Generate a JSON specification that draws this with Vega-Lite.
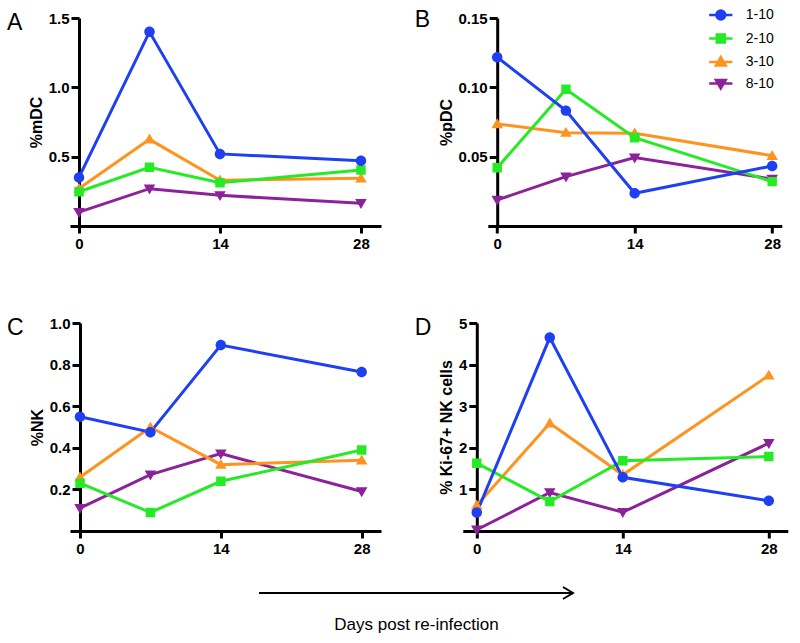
{
  "$schema": "https://vega.github.io/schema/vega-lite/v6.json",
  "padding": {"left": 7, "top": 8, "right": 5, "bottom": 5},
  "background": "white",
  "datasets": {
    "d": [
      {"panel": "A", "group": "8-10", "day": 0, "value": 0.10},
      {"panel": "A", "group": "8-10", "day": 7, "value": 0.269},
      {"panel": "A", "group": "8-10", "day": 14, "value": 0.221},
      {"panel": "A", "group": "8-10", "day": 28, "value": 0.164},
      {"panel": "A", "group": "3-10", "day": 0, "value": 0.27},
      {"panel": "A", "group": "3-10", "day": 7, "value": 0.625},
      {"panel": "A", "group": "3-10", "day": 14, "value": 0.33},
      {"panel": "A", "group": "3-10", "day": 28, "value": 0.344},
      {"panel": "A", "group": "2-10", "day": 0, "value": 0.247},
      {"panel": "A", "group": "2-10", "day": 7, "value": 0.423},
      {"panel": "A", "group": "2-10", "day": 14, "value": 0.312},
      {"panel": "A", "group": "2-10", "day": 28, "value": 0.404},
      {"panel": "A", "group": "1-10", "day": 0, "value": 0.35},
      {"panel": "A", "group": "1-10", "day": 7, "value": 1.40},
      {"panel": "A", "group": "1-10", "day": 14, "value": 0.52},
      {"panel": "A", "group": "1-10", "day": 28, "value": 0.47},

      {"panel": "B", "group": "8-10", "day": 0, "value": 0.0188},
      {"panel": "B", "group": "8-10", "day": 7, "value": 0.0356},
      {"panel": "B", "group": "8-10", "day": 14, "value": 0.0493},
      {"panel": "B", "group": "8-10", "day": 28, "value": 0.0339},
      {"panel": "B", "group": "3-10", "day": 0, "value": 0.0736},
      {"panel": "B", "group": "3-10", "day": 7, "value": 0.0673},
      {"panel": "B", "group": "3-10", "day": 14, "value": 0.0668},
      {"panel": "B", "group": "3-10", "day": 28, "value": 0.0507},
      {"panel": "B", "group": "2-10", "day": 0, "value": 0.042},
      {"panel": "B", "group": "2-10", "day": 7, "value": 0.0986},
      {"panel": "B", "group": "2-10", "day": 14, "value": 0.0637},
      {"panel": "B", "group": "2-10", "day": 28, "value": 0.032},
      {"panel": "B", "group": "1-10", "day": 0, "value": 0.1217},
      {"panel": "B", "group": "1-10", "day": 7, "value": 0.0832},
      {"panel": "B", "group": "1-10", "day": 14, "value": 0.0236},
      {"panel": "B", "group": "1-10", "day": 28, "value": 0.0433},

      {"panel": "C", "group": "8-10", "day": 0, "value": 0.110},
      {"panel": "C", "group": "8-10", "day": 7, "value": 0.271},
      {"panel": "C", "group": "8-10", "day": 14, "value": 0.372},
      {"panel": "C", "group": "8-10", "day": 28, "value": 0.19},
      {"panel": "C", "group": "3-10", "day": 0, "value": 0.258},
      {"panel": "C", "group": "3-10", "day": 7, "value": 0.499},
      {"panel": "C", "group": "3-10", "day": 14, "value": 0.319},
      {"panel": "C", "group": "3-10", "day": 28, "value": 0.340},
      {"panel": "C", "group": "2-10", "day": 0, "value": 0.230},
      {"panel": "C", "group": "2-10", "day": 7, "value": 0.089},
      {"panel": "C", "group": "2-10", "day": 14, "value": 0.239},
      {"panel": "C", "group": "2-10", "day": 28, "value": 0.389},
      {"panel": "C", "group": "1-10", "day": 0, "value": 0.549},
      {"panel": "C", "group": "1-10", "day": 7, "value": 0.475},
      {"panel": "C", "group": "1-10", "day": 14, "value": 0.894},
      {"panel": "C", "group": "1-10", "day": 28, "value": 0.764},

      {"panel": "D", "group": "8-10", "day": 0, "value": 0.03},
      {"panel": "D", "group": "8-10", "day": 7, "value": 0.925},
      {"panel": "D", "group": "8-10", "day": 14, "value": 0.45},
      {"panel": "D", "group": "8-10", "day": 28, "value": 2.11},
      {"panel": "D", "group": "3-10", "day": 0, "value": 0.62},
      {"panel": "D", "group": "3-10", "day": 7, "value": 2.59},
      {"panel": "D", "group": "3-10", "day": 14, "value": 1.35},
      {"panel": "D", "group": "3-10", "day": 28, "value": 3.74},
      {"panel": "D", "group": "2-10", "day": 0, "value": 1.63},
      {"panel": "D", "group": "2-10", "day": 7, "value": 0.71},
      {"panel": "D", "group": "2-10", "day": 14, "value": 1.69},
      {"panel": "D", "group": "2-10", "day": 28, "value": 1.79},
      {"panel": "D", "group": "1-10", "day": 0, "value": 0.445},
      {"panel": "D", "group": "1-10", "day": 7, "value": 4.65},
      {"panel": "D", "group": "1-10", "day": 14, "value": 1.29},
      {"panel": "D", "group": "1-10", "day": 28, "value": 0.726}
    ]
  },
  "data": {"name": "d"},
  "vconcat": [
    {
      "concat": [
        {
          "width": 311, "height": 208,
          "title": {"text": "A", "dx": -63},
          "transform": [{"filter": "datum.panel === 'A'"}],
          "encoding": {
            "x": {"field": "day", "type": "quantitative", "scale": {"domain": [-0.894, 29.99], "nice": false, "zero": false}, "axis": {"values": [0, 14, 28], "format": "d", "title": null}},
            "y": {"field": "value", "type": "quantitative", "scale": {"domain": [0, 1.5], "nice": false}, "axis": {"values": [0.5, 1, 1.5], "format": ".1f", "title": "%mDC", "offset": -9}},
            "color": {"field": "group", "type": "nominal", "scale": {"domain": ["1-10", "2-10", "3-10", "8-10"], "range": ["#1e40f2", "#27ea27", "#ff931f", "#8c229a"]}, "legend": null}
          },
          "layer": [
            {"mark": {"type": "line", "strokeWidth": 3}},
            {"mark": {"type": "point", "filled": true, "size": 110, "opacity": 1}, "encoding": {"shape": {"field": "group", "type": "nominal", "scale": {"domain": ["1-10", "2-10", "3-10", "8-10"], "range": ["M-2.6,0L2.6,0M-1,0A1,1 0 1,0 1,0A1,1 0 1,0 -1,0Z", "M-2.6,0L2.6,0M-0.9,-0.9L0.9,-0.9L0.9,0.9L-0.9,0.9Z", "M-2.6,0L2.6,0M0,-1.1L1.1,0.8L-1.1,0.8Z", "M-2.6,0L2.6,0M0,1.1L1.1,-0.8L-1.1,-0.8Z"]}, "legend": null}}}
          ]
        },
        {
          "width": 294, "height": 208,
          "title": {"text": "B", "dx": -73},
          "transform": [{"filter": "datum.panel === 'B'"}],
          "encoding": {
            "x": {"field": "day", "type": "quantitative", "scale": {"domain": [-0.957, 28.98], "nice": false, "zero": false}, "axis": {"values": [0, 14, 28], "format": "d", "title": null}},
            "y": {"field": "value", "type": "quantitative", "scale": {"domain": [0, 0.15], "nice": false}, "axis": {"values": [0.05, 0.1, 0.15], "format": ".2f", "title": "%pDC", "offset": -9.4}}
          },
          "layer": [
            {
              "transform": [{"filter": "false"}],
              "mark": {"type": "point", "filled": true, "opacity": 1},
              "encoding": {
                "color": {"field": "group", "type": "nominal", "scale": {"domain": ["1-10", "2-10", "3-10", "8-10"], "range": ["#1e40f2", "#27ea27", "#ff931f", "#8c229a"]},
                  "legend": {"title": null, "orient": "none", "legendX": 226, "legendY": -10, "symbolSize": 80, "symbolStrokeWidth": 2.5, "labelFontSize": 14, "labelFont": "Liberation Sans", "labelFontWeight": "normal", "labelColor": "black", "labelOffset": 18, "rowPadding": 3.5}},
                "stroke": {"field": "group", "type": "nominal", "scale": {"domain": ["1-10", "2-10", "3-10", "8-10"], "range": ["#1e40f2", "#27ea27", "#ff931f", "#8c229a"]},
                  "legend": {"title": null, "orient": "none", "legendX": 226, "legendY": -10, "symbolSize": 80, "symbolStrokeWidth": 2.5, "labelFontSize": 14, "labelFont": "Liberation Sans", "labelFontWeight": "normal", "labelColor": "black", "labelOffset": 18, "rowPadding": 3.5}},
                "shape": {"field": "group", "type": "nominal", "scale": {"domain": ["1-10", "2-10", "3-10", "8-10"], "range": ["M-2.6,0L2.6,0M-1,0A1,1 0 1,0 1,0A1,1 0 1,0 -1,0Z", "M-2.6,0L2.6,0M-0.9,-0.9L0.9,-0.9L0.9,0.9L-0.9,0.9Z", "M-2.6,0L2.6,0M0,-1.1L1.1,0.8L-1.1,0.8Z", "M-2.6,0L2.6,0M0,1.1L1.1,-0.8L-1.1,-0.8Z"]},
                  "legend": {"title": null, "orient": "none", "legendX": 226, "legendY": -10, "symbolSize": 80, "symbolStrokeWidth": 2.5, "labelFontSize": 14, "labelFont": "Liberation Sans", "labelFontWeight": "normal", "labelColor": "black", "labelOffset": 18, "rowPadding": 3.5}}
              }
            },
            {"mark": {"type": "line", "strokeWidth": 3},
             "encoding": {"color": {"field": "group", "type": "nominal", "scale": {"domain": ["1-10", "2-10", "3-10", "8-10"], "range": ["#1e40f2", "#27ea27", "#ff931f", "#8c229a"]}, "legend": null}}},
            {"mark": {"type": "point", "filled": true, "size": 110, "opacity": 1},
             "encoding": {
               "color": {"field": "group", "type": "nominal", "scale": {"domain": ["1-10", "2-10", "3-10", "8-10"], "range": ["#1e40f2", "#27ea27", "#ff931f", "#8c229a"]}, "legend": null},
               "shape": {"field": "group", "type": "nominal", "scale": {"domain": ["1-10", "2-10", "3-10", "8-10"], "range": ["M-2.6,0L2.6,0M-1,0A1,1 0 1,0 1,0A1,1 0 1,0 -1,0Z", "M-2.6,0L2.6,0M-0.9,-0.9L0.9,-0.9L0.9,0.9L-0.9,0.9Z", "M-2.6,0L2.6,0M0,-1.1L1.1,0.8L-1.1,0.8Z", "M-2.6,0L2.6,0M0,1.1L1.1,-0.8L-1.1,-0.8Z"]}, "legend": null}}}
          ]
        },
        {
          "width": 311, "height": 208,
          "title": {"text": "C", "dx": -63},
          "transform": [{"filter": "datum.panel === 'C'"}],
          "encoding": {
            "x": {"field": "day", "type": "quantitative", "scale": {"domain": [-0.994, 29.92], "nice": false, "zero": false}, "axis": {"values": [0, 14, 28], "format": "d", "title": null}},
            "y": {"field": "value", "type": "quantitative", "scale": {"domain": [0, 1.0], "nice": false}, "axis": {"values": [0.2, 0.4, 0.6, 0.8, 1.0], "format": ".1f", "title": "%NK", "offset": -10}},
            "color": {"field": "group", "type": "nominal", "scale": {"domain": ["1-10", "2-10", "3-10", "8-10"], "range": ["#1e40f2", "#27ea27", "#ff931f", "#8c229a"]}, "legend": null}
          },
          "layer": [
            {"mark": {"type": "line", "strokeWidth": 3}},
            {"mark": {"type": "point", "filled": true, "size": 110, "opacity": 1}, "encoding": {"shape": {"field": "group", "type": "nominal", "scale": {"domain": ["1-10", "2-10", "3-10", "8-10"], "range": ["M-2.6,0L2.6,0M-1,0A1,1 0 1,0 1,0A1,1 0 1,0 -1,0Z", "M-2.6,0L2.6,0M-0.9,-0.9L0.9,-0.9L0.9,0.9L-0.9,0.9Z", "M-2.6,0L2.6,0M0,-1.1L1.1,0.8L-1.1,0.8Z", "M-2.6,0L2.6,0M0,1.1L1.1,-0.8L-1.1,-0.8Z"]}, "legend": null}}}
          ]
        },
        {
          "width": 325, "height": 208,
          "title": {"text": "D", "dx": -48},
          "transform": [{"filter": "datum.panel === 'D'"}],
          "encoding": {
            "x": {"field": "day", "type": "quantitative", "scale": {"domain": [-1.34, 29.82], "nice": false, "zero": false}, "axis": {"values": [0, 14, 28], "format": "d", "title": null}},
            "y": {"field": "value", "type": "quantitative", "scale": {"domain": [0, 5], "nice": false}, "axis": {"values": [1, 2, 3, 4, 5], "format": "d", "title": "% Ki-67+ NK cells", "offset": -14}},
            "color": {"field": "group", "type": "nominal", "scale": {"domain": ["1-10", "2-10", "3-10", "8-10"], "range": ["#1e40f2", "#27ea27", "#ff931f", "#8c229a"]}, "legend": null}
          },
          "layer": [
            {"mark": {"type": "line", "strokeWidth": 3}},
            {"mark": {"type": "point", "filled": true, "size": 110, "opacity": 1}, "encoding": {"shape": {"field": "group", "type": "nominal", "scale": {"domain": ["1-10", "2-10", "3-10", "8-10"], "range": ["M-2.6,0L2.6,0M-1,0A1,1 0 1,0 1,0A1,1 0 1,0 -1,0Z", "M-2.6,0L2.6,0M-0.9,-0.9L0.9,-0.9L0.9,0.9L-0.9,0.9Z", "M-2.6,0L2.6,0M0,-1.1L1.1,0.8L-1.1,0.8Z", "M-2.6,0L2.6,0M0,1.1L1.1,-0.8L-1.1,-0.8Z"]}, "legend": null}}}
          ]
        }
      ],
      "columns": 2,
      "align": {"row": "all", "column": "none"},
      "spacing": {"row": 65, "column": 33.8},
      "resolve": {"legend": {"color": "independent", "shape": "independent", "stroke": "independent"}}
    },
    {
      "hconcat": [
        {
          "width": 188, "height": 10,
          "data": {"values": [{"a": 0}]},
          "mark": {"type": "point", "opacity": 0},
          "encoding": {}
        },
        {
          "width": 314, "height": 10,
          "data": {"values": [{"start": 0, "end": 1}]},
          "layer": [
            {
              "mark": {"type": "rule", "strokeWidth": 2, "color": "black"},
              "encoding": {
                "x": {"field": "start", "type": "quantitative", "scale": {"domain": [0, 1], "nice": false, "zero": false}, "title": "Days post re-infection", "axis": {"domain": false, "ticks": false, "labels": false, "titleFontSize": 17, "titleFontWeight": "normal", "titlePadding": 18}},
                "x2": {"field": "end"}
              }
            },
            {
              "mark": {"type": "point", "shape": "M-1.67,-1L0,0L-1.67,1", "filled": false, "size": 144, "strokeWidth": 2, "color": "black", "opacity": 1},
              "encoding": {
                "x": {"field": "end", "type": "quantitative", "title": "Days post re-infection", "axis": {"domain": false, "ticks": false, "labels": false, "titleFontSize": 17, "titleFontWeight": "normal", "titlePadding": 18}}
              }
            }
          ]
        }
      ],
      "spacing": 0
    }
  ],
  "spacing": 27,
  "config": {
    "view": {"stroke": null},
    "font": "Liberation Sans",
    "title": {"font": "Liberation Sans", "fontSize": 23, "fontWeight": "normal", "anchor": "start", "frame": "group", "baseline": "alphabetic", "offset": -24, "color": "black"},
    "axis": {"domainColor": "black", "domainWidth": 3, "tickColor": "black", "tickWidth": 3, "grid": false, "labelFont": "Liberation Sans", "labelFontSize": 15, "labelFontWeight": "bold", "labelColor": "black", "titleFont": "Liberation Sans", "titleFontSize": 16, "titleFontWeight": "bold", "titleColor": "black"},
    "axisX": {"tickSize": 7, "labelPadding": 3},
    "axisY": {"tickSize": 8, "labelPadding": 2, "titlePadding": 4}
  }
}
